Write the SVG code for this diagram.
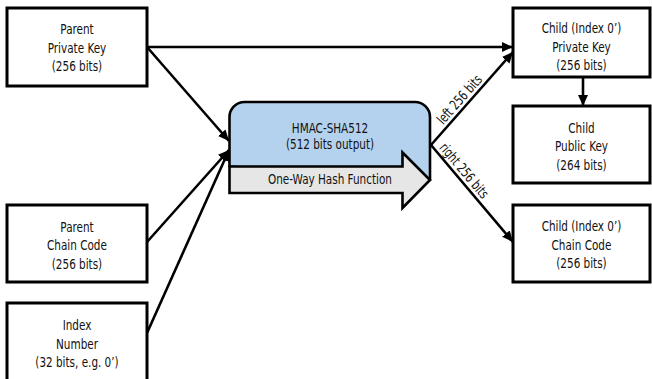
<svg xmlns="http://www.w3.org/2000/svg" width="652" height="379" viewBox="0 0 652 379">
<defs>
<style>
.box{fill:#fff;stroke:#000;stroke-width:3}
.t,.lbl{font-family:"Liberation Sans Narrow","DejaVu Sans Condensed","Liberation Sans",sans-serif;fill:#111;text-anchor:middle;transform-box:fill-box;transform-origin:center;transform:scaleX(0.8)}
.t{font-size:14.5px}
.lbl{font-size:14px}
.c{fill:none;stroke:#000;stroke-width:2.6;marker-end:url(#ah)}
</style>
<marker id="ah" markerUnits="userSpaceOnUse" markerWidth="12" markerHeight="11" refX="11" refY="5" orient="auto">
<path d="M0,0 L11,5 L0,10 z" fill="#000"/>
</marker>
</defs>
<rect width="652" height="379" fill="#fff"/>
<g id="connectors">
<path class="c" d="M147,47 H513"/>
<path class="c" d="M147,47 L229,141"/>
<path class="c" d="M147,242 L229,150"/>
<path class="c" d="M147,333 L229,150"/>
<path class="c" d="M431,145 L513,52"/>
<path class="c" d="M431,145 L513,242"/>
<path class="c" d="M583,77 V106"/>
<g transform="translate(431,145) rotate(-48.6)"><text class="lbl" x="53" y="-4">left 256 bits</text></g>
<g transform="translate(431,145) rotate(49.8)"><text class="lbl" x="41" y="-4">right 256 bits</text></g>
</g>
<g id="parent-private-key">
<rect class="box" x="7" y="8" width="140" height="78"/>
<text class="t" x="77" y="34.5">Parent</text>
<text class="t" x="77" y="53">Private Key</text>
<text class="t" x="77" y="71.5">(256 bits)</text>
</g>
<g id="parent-chain-code">
<rect class="box" x="7" y="205" width="140" height="77"/>
<text class="t" x="77" y="232">Parent</text>
<text class="t" x="77" y="250.5">Chain Code</text>
<text class="t" x="77" y="269">(256 bits)</text>
</g>
<g id="index-number">
<rect class="box" x="7" y="303" width="140" height="86"/>
<text class="t" x="77" y="330">Index</text>
<text class="t" x="77" y="349">Number</text>
<text class="t" x="77" y="367.5">(32 bits, e.g. 0’)</text>
</g>
<g id="hmac">
<path d="M229.5,166.5 V117 A15,15 0 0 1 244.5,102 H415 A15,15 0 0 1 430,117 V180 Z" fill="#b4d2ee" stroke="#000" stroke-width="2.6" stroke-linejoin="round"/>
<path d="M229.5,166.5 H402.5 V152.5 L430,180 L402.5,208 V193 H229.5 Z" fill="#e6e6e6" stroke="#000" stroke-width="2.6" stroke-linejoin="miter"/>
<text class="t" x="330" y="133.5">HMAC-SHA512</text>
<text class="t" x="330" y="149.5">(512 bits output)</text>
<text class="t" x="330" y="184.5">One-Way Hash Function</text>
</g>
<g id="child-private-key">
<rect class="box" x="513" y="8" width="137" height="69"/>
<text class="t" x="581.5" y="33.5">Child (Index 0’)</text>
<text class="t" x="581.5" y="52">Private Key</text>
<text class="t" x="581.5" y="70.5">(256 bits)</text>
</g>
<g id="child-public-key">
<rect class="box" x="513" y="106" width="137" height="77"/>
<text class="t" x="581.5" y="133">Child</text>
<text class="t" x="581.5" y="151.5">Public Key</text>
<text class="t" x="581.5" y="170">(264 bits)</text>
</g>
<g id="child-chain-code">
<rect class="box" x="513" y="205" width="137" height="77"/>
<text class="t" x="581.5" y="231.5">Child (Index 0’)</text>
<text class="t" x="581.5" y="250">Chain Code</text>
<text class="t" x="581.5" y="268.5">(256 bits)</text>
</g>
</svg>
